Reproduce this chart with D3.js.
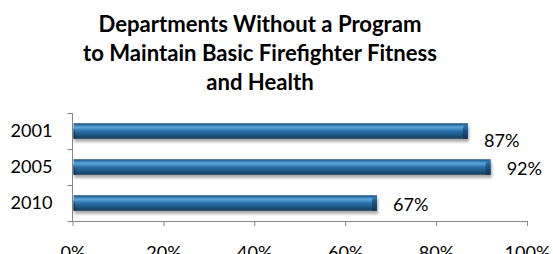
<!DOCTYPE html>
<html>
<head>
<meta charset="utf-8">
<script src="https://cdn.jsdelivr.net/npm/d3@7/dist/d3.min.js"></script>
<style>
  html, body { margin: 0; padding: 0; background: #fff; }
  svg { display: block; }
  text { font-family: Lato, "Open Sans", sans-serif; fill: #000; }
</style>
</head>
<body>
<script>
// ---- data ----
const titleLines = ["Departments Without a Program", "to Maintain Basic Firefighter Fitness", "and Health"];
const categories = ["2001", "2005", "2010"];
const values = [87, 92, 67];
const valueLabels = ["87%", "92%", "67%"];
const xTicks = [0, 20, 40, 60, 80, 100];
const xTickLabels = ["0%", "20%", "40%", "60%", "80%", "100%"];

const W = 553, H = 254;
const svg = d3.select("body").append("svg").attr("width", W).attr("height", H);

const defs = svg.append("defs");
const grad = defs.append("linearGradient").attr("id", "barGrad")
  .attr("x1", 0).attr("y1", 0).attr("x2", 0).attr("y2", 1);
[
  [0, "#1b4a72"], [0.1, "#2c6fa6"], [0.25, "#5ea6da"], [0.35, "#4a93cc"],
  [0.5, "#2b6fa8"], [0.75, "#1f5886"], [1, "#143a5a"]
].forEach(([o, c]) => grad.append("stop").attr("offset", o).attr("stop-color", c));

const capGrad = defs.append("linearGradient").attr("id", "capGrad")
  .attr("x1", 0).attr("y1", 0).attr("x2", 0).attr("y2", 1);
[[0, "#3f7fb3"], [0.4, "#1e5584"], [1, "#10324f"]]
  .forEach(([o, c]) => capGrad.append("stop").attr("offset", o).attr("stop-color", c));

const shadow = defs.append("filter").attr("id", "shadow")
  .attr("x", "-5%").attr("y", "-30%").attr("width", "110%").attr("height", "180%");
shadow.append("feGaussianBlur").attr("in", "SourceAlpha").attr("stdDeviation", 1.8).attr("result", "b");
shadow.append("feOffset").attr("in", "b").attr("dx", 1).attr("dy", 3).attr("result", "o");
shadow.append("feComponentTransfer").attr("in", "o").attr("result", "s")
  .append("feFuncA").attr("type", "linear").attr("slope", 0.35);
const merge = shadow.append("feMerge");
merge.append("feMergeNode").attr("in", "s");
merge.append("feMergeNode").attr("in", "SourceGraphic");

// ---- scales ----
const x = d3.scaleLinear().domain([0, 100]).range([72.5, 527]);
const y = d3.scaleBand().domain(categories).range([113, 221]).paddingInner(0.57).paddingOuter(0.285);

// ---- helper to fit font size to a target width ----
function fitSize(sel, target, base) {
  const w = sel.node().getComputedTextLength();
  return base * target / w;
}

// ---- title ----
const title = svg.append("g");
const tl = title.selectAll("text").data(titleLines).join("text")
  .attr("x", 260).attr("y", (d, i) => 32 + i * 29)
  .attr("text-anchor", "middle")
  .attr("font-weight", "bold")
  .attr("font-size", 18)
  .text(d => d);
const ts = fitSize(d3.select(tl.nodes()[1]), 354, 18);
tl.attr("font-size", ts);

// ---- axes ----
const axisColor = "#868686";
const gx = svg.append("g").attr("transform", `translate(0,221)`)
  .call(d3.axisBottom(x).tickValues(xTicks).tickFormat((d, i) => xTickLabels[i]).tickSize(5).tickPadding(20));
gx.select(".domain").attr("stroke", axisColor).attr("d", `M${x(0)},0.5H${x(100)}`);
gx.selectAll(".tick line").attr("stroke", axisColor);
gx.selectAll(".tick text").attr("fill", "#000").attr("font-size", 18).attr("font-family", "Lato, sans-serif");

const gy = svg.append("g").attr("transform", `translate(72.5,0)`)
  .call(d3.axisLeft(y).tickSize(0).tickPadding(20));
gy.select(".domain").attr("stroke", axisColor).attr("d", `M0,113V221.5`);
gy.selectAll(".tick text").attr("fill", "#000").attr("font-size", 18).attr("font-family", "Lato, sans-serif");
// category boundary ticks
const bounds = [113, ...categories.slice(1).map(c => y(c) - y.step() * y.paddingInner() / 2 - 0), 221];
gy.selectAll(".bound").data(categories.concat(["end"])).join("line")
  .attr("class", "bound")
  .attr("x1", -5).attr("x2", 0)
  .attr("y1", (d, i) => (i < categories.length ? y(d) - y.step() * 0.285 : 221) + 0.5)
  .attr("y2", (d, i) => (i < categories.length ? y(d) - y.step() * 0.285 : 221) + 0.5)
  .attr("stroke", axisColor);

// fit label sizes
const yt = gy.select(".tick text");
const ls = fitSize(yt, 42, 18);
gy.selectAll(".tick text").attr("font-size", ls);
gx.selectAll(".tick text").attr("font-size", ls);

// ---- bars ----
const bars = svg.append("g");
const bh = y.bandwidth();
const bg = bars.selectAll("g").data(categories).join("g").attr("filter", "url(#shadow)");
bg.append("rect")
  .attr("x", x(0) + 1).attr("y", d => y(d))
  .attr("width", (d, i) => x(values[i]) - x(0) - 1).attr("height", bh)
  .attr("fill", "url(#barGrad)");
// right end cap bevel
bg.append("path")
  .attr("d", (d, i) => {
    const xe = x(values[i]), t = y(d);
    return `M${xe - 5},${t + 4}L${xe},${t}V${t + bh}H${xe - 5}Z`;
  })
  .attr("fill", "url(#capGrad)").attr("opacity", 0.9);
// left end bevel
bg.append("path")
  .attr("d", d => {
    const xs = x(0) + 1, t = y(d);
    return `M${xs},${t + 4}L${xs + 3},${t + bh}H${xs}Z`;
  })
  .attr("fill", "#10324f").attr("opacity", 0.8);

// ---- value labels ----
svg.append("g").selectAll("text").data(categories).join("text")
  .attr("x", (d, i) => x(values[i]) + 16)
  .attr("y", (d, i) => y(d) + bh / 2 + (i === 0 ? 16 : 8))
  .attr("font-size", ls)
  .text((d, i) => valueLabels[i]);
</script>
</body>
</html>
